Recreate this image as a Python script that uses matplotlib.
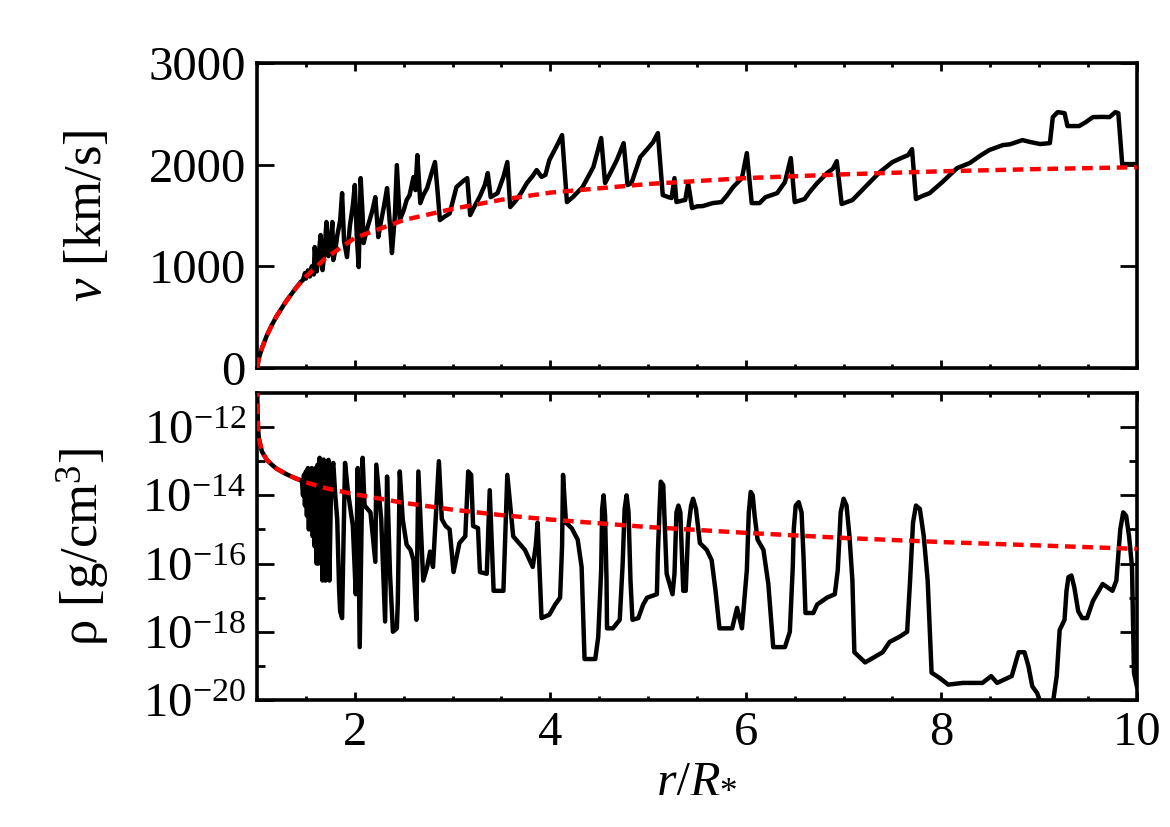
import numpy as np
import matplotlib
matplotlib.use("Agg")
import matplotlib.pyplot as plt
from matplotlib.ticker import FixedLocator, LogFormatterMathtext, NullFormatter, MultipleLocator

plt.rcParams["font.family"] = ["Liberation Serif", "DejaVu Serif"]
plt.rcParams["mathtext.fontset"] = "custom"
plt.rcParams["mathtext.rm"] = "Liberation Serif"
plt.rcParams["mathtext.it"] = "Liberation Serif:italic"

# smooth model (red dashed)
r_model = [1.0, 1.01, 1.02, 1.05, 1.1, 1.15, 1.2, 1.3, 1.4, 1.5, 1.7, 2.0, 2.5,
           3.0, 3.5, 4.0, 5.0, 6.0, 7.0, 8.0, 9.0, 10.0]
v_model = [0, 60, 100, 195, 320, 420, 510, 660, 790, 900, 1080, 1280, 1455,
           1565, 1655, 1725, 1810, 1868, 1905, 1935, 1957, 1975]
logrho_model = [-10.8, -12.05, -12.35, -12.72, -12.96, -13.10, -13.22, -13.38, -13.51,
                -13.62, -13.79, -13.97, -14.22, -14.42, -14.58, -14.71, -14.93, -15.10,
                -15.25, -15.37, -15.47, -15.57]

# simulation snapshot, velocity (black)
r_v = [1.0, 1.02, 1.05, 1.1, 1.15, 1.2, 1.3, 1.4, 1.45, 1.47, 1.49, 1.50, 1.52, 1.54,
       1.56, 1.58, 1.59, 1.61, 1.63, 1.65, 1.67, 1.69, 1.71, 1.73, 1.75, 1.77, 1.78,
       1.80, 1.82, 1.85, 1.87, 1.89, 1.92, 1.95, 1.98, 2.0, 2.02, 2.04, 2.06, 2.08,
       2.09, 2.12, 2.15, 2.18, 2.21, 2.24, 2.27, 2.30, 2.33, 2.36, 2.38, 2.41, 2.43,
       2.46, 2.50, 2.53, 2.56, 2.60, 2.62, 2.64, 2.67, 2.70, 2.74, 2.78, 2.82, 2.85,
       2.87, 2.92, 2.97, 3.04, 3.11, 3.15, 3.18, 3.23, 3.28, 3.33, 3.36, 3.39, 3.46,
       3.52, 3.56, 3.59, 3.65, 3.70, 3.76, 3.82, 3.86, 3.91, 3.95, 3.99, 4.08, 4.12,
       4.17, 4.23, 4.33, 4.44, 4.52, 4.56, 4.62, 4.68, 4.75, 4.79, 4.83, 4.92, 5.0,
       5.05, 5.10, 5.15, 5.21, 5.24, 5.27, 5.29, 5.36, 5.38, 5.41, 5.45, 5.50, 5.56,
       5.66, 5.75, 5.81, 5.87, 5.96, 6.01, 6.06, 6.14, 6.20, 6.32, 6.40, 6.46, 6.50,
       6.60, 6.66, 6.73, 6.83, 6.89, 6.93, 6.98, 7.09, 7.24, 7.37, 7.50, 7.60, 7.66,
       7.70, 7.74, 7.80, 7.88, 8.01, 8.16, 8.29, 8.40, 8.49, 8.63, 8.70, 8.83, 8.90,
       9.01, 9.11, 9.14, 9.19, 9.26, 9.29, 9.41, 9.48, 9.55, 9.65, 9.72, 9.78, 9.81,
       9.85, 10.0]
v_sim = [0, 100, 195, 320, 420, 510, 660, 790, 850, 865, 934, 880, 960, 900,
         1000, 920, 1190, 950, 1100, 1308, 963, 1150, 1436, 1100, 1200, 1436, 1062,
         1150, 1300, 1450, 1720, 1250, 1091, 1400, 1600, 1800, 1300, 993, 1868, 1500,
         1229, 1350, 1450, 1550, 1681, 1288, 1450, 1600, 1770, 1400, 1131, 1500, 1996,
         1455, 1550, 1652, 1700, 1878, 1750, 2094, 1622, 1700, 1770, 1900, 2026, 1700,
         1455, 1490, 1520, 1780, 1840, 1868, 1504, 1600, 1690, 1800, 1917, 1681, 1720,
         1880, 2026, 1583, 1650, 1720, 1819, 1890, 1947, 1880, 1900, 2045, 2212, 2291,
         1632, 1681, 1780, 1976, 2262, 1819, 1930, 2045, 2212, 1800, 1819, 2075, 2163,
         2220, 2311, 1701, 1680, 1672, 1868, 1632, 1650, 1652, 1819, 1573, 1590, 1593,
         1622, 1632, 1700, 1780, 1868, 2114, 1622, 1622, 1680, 1720, 1829, 2065, 1632,
         1662, 1740, 1819, 1917, 1960, 2035, 1613, 1652, 1800, 1927, 2026, 2070, 2094,
         2153, 1662, 1690, 1720, 1829, 1966, 2016, 2090, 2144, 2193, 2200, 2242, 2225,
         2203, 2212, 2468, 2517, 2507, 2380, 2380, 2420, 2468, 2470, 2468, 2517, 2507,
         2006, 2006]

# simulation snapshot, log10 density (black)
r_rho = [1.0, 1.01, 1.02, 1.05, 1.1, 1.15, 1.2, 1.3, 1.4, 1.45, 1.46, 1.47, 1.48, 1.49,
         1.50, 1.51, 1.52, 1.53, 1.54, 1.55, 1.56, 1.57, 1.58, 1.59, 1.60, 1.61, 1.62,
         1.63, 1.64, 1.65, 1.66, 1.67, 1.68, 1.70, 1.71, 1.72, 1.73, 1.74, 1.76, 1.78,
         1.80, 1.82, 1.84, 1.85, 1.87, 1.88, 1.90, 1.93, 1.98, 2.01, 2.03, 2.05, 2.08,
         2.10, 2.13, 2.16, 2.21, 2.22, 2.27, 2.31, 2.33, 2.36, 2.39, 2.43, 2.44, 2.46,
         2.49, 2.53, 2.57, 2.60, 2.63, 2.65, 2.70, 2.74, 2.77, 2.80, 2.84, 2.86, 2.89,
         2.93, 2.97, 3.01, 3.07, 3.13, 3.16, 3.19, 3.21, 3.26, 3.28, 3.35, 3.38, 3.42,
         3.52, 3.56, 3.62, 3.68, 3.74, 3.82, 3.85, 3.87, 3.91, 3.99, 4.05, 4.10, 4.12,
         4.13, 4.16, 4.22, 4.28, 4.32, 4.35, 4.46, 4.49, 4.52, 4.53, 4.545, 4.56, 4.575,
         4.58, 4.64, 4.71, 4.74, 4.76, 4.78, 4.80, 4.82, 4.84, 4.90, 4.95, 4.99, 5.09,
         5.10, 5.12, 5.13, 5.155, 5.17, 5.19, 5.25, 5.27, 5.29, 5.31, 5.33, 5.36, 5.385,
         5.41, 5.44, 5.46, 5.49, 5.53, 5.60, 5.65, 5.69, 5.73, 5.86, 5.91, 5.96, 6.01,
         6.03, 6.05, 6.07, 6.09, 6.12, 6.18, 6.23, 6.28, 6.40, 6.45, 6.48, 6.49, 6.51,
         6.54, 6.57, 6.59, 6.61, 6.69, 6.73, 6.83, 6.91, 6.94, 6.97, 7.0, 7.03, 7.06,
         7.09, 7.11, 7.22, 7.34, 7.40, 7.47, 7.57, 7.65, 7.68, 7.71, 7.74, 7.78, 7.82,
         7.86, 7.90, 7.98, 8.07, 8.22, 8.42, 8.51, 8.57, 8.72, 8.75, 8.79, 8.85, 8.89,
         8.93, 8.98, 9.04, 9.13, 9.18, 9.21, 9.26, 9.28, 9.30, 9.33, 9.36, 9.40, 9.44,
         9.49, 9.55, 9.65, 9.75, 9.79, 9.83, 9.86, 9.89, 9.92, 9.95, 9.97, 10.0]
logrho_sim = [-10.8, -12.05, -12.35, -12.72, -12.96, -13.10, -13.22, -13.38, -13.51, -13.56,
              -13.6, -14.0, -13.4, -14.3, -13.3, -14.6, -13.2, -15.0, -13.3, -14.8,
              -13.2, -15.2, -13.3, -15.5, -13.2, -16.0, -13.1, -16.0, -12.9, -15.8,
              -13.0, -16.5, -12.95, -16.5, -13.0, -15.5, -12.96, -16.5, -13.3, -13.05,
              -14.0, -14.7, -16.8, -17.4, -17.6, -16.0, -13.05, -13.9, -14.9, -16.9,
              -13.2, -18.45, -12.9, -14.3, -14.4, -14.5, -15.95, -13.1, -14.7, -17.7,
              -13.45, -16.3, -18.0, -17.9, -17.1, -13.3, -14.7, -15.45, -15.6, -15.9,
              -17.65, -13.3, -16.5, -16.1, -15.65, -16.1, -14.0, -13.0, -14.7, -14.9,
              -15.0, -16.25, -15.4, -15.2, -13.3, -13.4, -14.9, -14.96, -16.25, -16.3,
              -13.85, -16.8, -16.8, -13.4, -15.2, -15.4, -15.6, -16.1, -15.5, -14.8,
              -17.6, -17.5, -17.2, -17.0, -15.5,
              -13.4, -14.8, -14.97, -15.3, -16.1, -18.8, -18.8, -18.15, -16.2, -14.4,
              -14.0, -14.6, -16.5,
              -17.9, -17.9, -17.65, -16.0, -14.4, -14.0, -14.5, -16.5, -17.65, -17.6,
              -17.2, -17.0, -16.9,
              -15.7, -14.2, -13.6, -13.7, -14.8, -16.3, -16.9, -16.3, -14.5, -14.3,
              -14.5, -16.8, -16.8,
              -15.0, -14.3, -14.1, -14.4, -15.4, -15.6, -15.9, -16.8, -17.9, -17.9,
              -17.3, -17.9, -16.2,
              -14.5, -13.9, -14.0, -14.6, -15.3, -15.6, -16.6, -18.45, -18.45, -18.0,
              -16.1, -15.0, -14.3,
              -14.2, -14.5, -15.8, -17.45, -17.45, -17.2, -17.0, -16.9, -16.2, -14.5,
              -14.1, -14.3, -15.2,
              -16.5, -18.6, -18.9, -18.7, -18.6, -18.3, -18.15, -18.0, -16.5, -14.8,
              -14.3, -14.4, -15.2,
              -16.5, -19.2, -19.35, -19.55, -19.5, -19.5, -19.3, -19.5, -19.3, -19.0,
              -18.6, -18.6, -19.0,
              -19.6, -19.8, -20.3, -20.3, -19.3, -17.95, -17.65, -16.8, -16.4, -16.35,
              -16.7, -17.4, -17.6,
              -17.6, -17.1, -16.6, -16.8, -16.5, -15.0, -14.5, -14.6, -15.2, -16.1,
              -19.2, -19.6]

fig = plt.figure(figsize=(11.7, 8.27), dpi=100)
ax1 = fig.add_axes([0.2197, 0.555, 0.752, 0.3688])
ax2 = fig.add_axes([0.2197, 0.1536, 0.752, 0.3712], sharex=ax1)

lw = 3.2
dash = (0, (2.4, 1.5))

ax1.plot(r_v, v_sim, color="black", lw=lw, zorder=2)
ax1.plot(r_model, v_model, color="red", lw=lw, linestyle=dash, zorder=3)
ax2.plot(r_rho, 10.0 ** np.array(logrho_sim), color="black", lw=lw, zorder=2)
ax2.plot(r_model, 10.0 ** np.array(logrho_model), color="red", lw=lw, linestyle=dash, zorder=3)

ax1.set_xlim(1, 10)
ax1.set_ylim(0, 3000)
ax1.set_yticks([0, 1000, 2000, 3000])
ax2.set_yscale("log")
ax2.set_ylim(1e-20, 1e-11)
ax2.yaxis.set_major_locator(FixedLocator([1e-20, 1e-18, 1e-16, 1e-14, 1e-12]))
ax2.yaxis.set_major_formatter(LogFormatterMathtext())
ax2.yaxis.set_minor_locator(FixedLocator([1e-19, 1e-17, 1e-15, 1e-13]))
ax2.yaxis.set_minor_formatter(NullFormatter())
ax2.set_xticks([2, 4, 6, 8, 10])
ax2.xaxis.set_minor_locator(MultipleLocator(0.5))

for ax in (ax1, ax2):
    for s in ax.spines.values():
        s.set_linewidth(2.6)
    ax.tick_params(axis="both", which="both", direction="in", top=True, right=True,
                   labelsize=35, width=2.0)
    ax.tick_params(axis="y", which="major", length=12, pad=8)
    ax.tick_params(axis="y", which="minor", length=6)
    ax.tick_params(axis="x", which="major", length=6, pad=8)
    ax.tick_params(axis="x", which="minor", length=3)
ax1.tick_params(axis="x", labelbottom=False)

ax1.set_ylabel(r"$v$ [km/s]", fontsize=38)
ax2.set_ylabel(r"ρ [g/cm$^3$]", fontsize=38)
ax1.yaxis.set_label_coords(-0.165, 0.5)
ax2.yaxis.set_label_coords(-0.165, 0.5)
ax2.set_xlabel(r"$r/R_{*}$", fontsize=36, labelpad=0)

fig.savefig("out.png", dpi=100)
